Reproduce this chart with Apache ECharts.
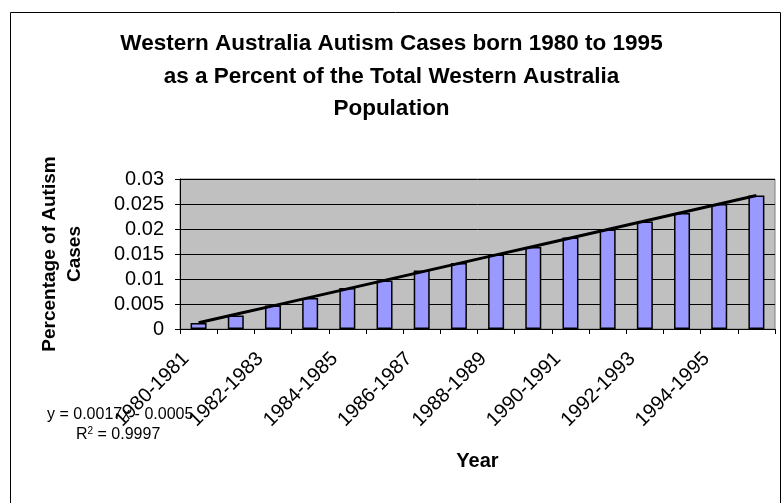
<!DOCTYPE html>
<html>
<head>
<meta charset="utf-8">
<script src="https://cdn.jsdelivr.net/npm/echarts@6/dist/echarts.min.js"></script>
<style>html,body{margin:0;padding:0;background:#fff;}#c{width:783px;height:503px;}</style>
</head>
<body>
<div id="c"></div>
<script>
var categories = ["1980-1981","1981-1982","1982-1983","1983-1984","1984-1985","1985-1986","1986-1987","1987-1988","1988-1989","1989-1990","1990-1991","1991-1992","1992-1993","1993-1994","1994-1995","1995-1996"];
var percentValues = [0.0012,0.0027,0.0047,0.0062,0.0082,0.0097,0.0117,0.0132,0.0149,0.0164,0.0183,0.0199,0.0215,0.0232,0.0250,0.0267];
var yTicks = [0, 0.005, 0.01, 0.015, 0.02, 0.025, 0.03];

// linear trendline (least squares) derived from the bar data
var n = percentValues.length, sx = 0, sy = 0, sxy = 0, sxx = 0;
for (var i = 0; i < n; i++) { var x = i + 1; sx += x; sy += percentValues[i]; sxy += x * percentValues[i]; sxx += x * x; }
var slope = (n * sxy - sx * sy) / (n * sxx - sx * sx);
var intercept = (sy - slope * sx) / n;
var trend = percentValues.map(function (v, i) { return slope * (i + 1) + intercept; });

var chart = echarts.init(document.getElementById('c'));
var FONT = '"Liberation Sans", Arial, sans-serif';
chart.setOption({
  backgroundColor: '#fff',
  animation: false,
  title: {
    text: 'Western Australia Autism Cases born 1980 to 1995\nas a Percent of the Total Western Australia\nPopulation',
    left: 'center', top: 23,
    textStyle: { fontFamily: FONT, fontSize: 22.5, fontWeight: 'bold', color: '#000', lineHeight: 32.5 }
  },
  grid: { left: 180, right: 8, top: 179, bottom: 174, show: true, backgroundColor: '#C0C0C0', borderColor: '#808080', borderWidth: 1 },
  xAxis: {
    type: 'category', data: categories, boundaryGap: true,
    name: 'Year', nameLocation: 'middle', nameGap: 122,
    nameTextStyle: { fontFamily: FONT, fontSize: 20, fontWeight: 'bold', color: '#000' },
    axisLine: { lineStyle: { color: '#000', width: 1 } },
    axisTick: { show: true, alignWithLabel: false, interval: 0, length: 5, lineStyle: { color: '#000' } },
    axisLabel: { interval: 1, rotate: 45, fontFamily: FONT, fontSize: 20, color: '#000', margin: 14, padding: [0, 18, 0, 0] }
  },
  yAxis: {
    type: 'value', min: 0, max: 0.03, interval: 0.005,
    name: 'Percentage of Autism\nCases', nameLocation: 'middle', nameGap: 93, nameRotate: 90,
    nameTextStyle: { fontFamily: FONT, fontSize: 19, fontWeight: 'bold', color: '#000', lineHeight: 25 },
    axisLine: { show: true, lineStyle: { color: '#000', width: 1 } },
    axisTick: { show: true, length: 5, lineStyle: { color: '#000' } },
    splitLine: { show: true, lineStyle: { color: '#000', width: 1 } },
    axisLabel: { fontFamily: FONT, fontSize: 20, color: '#000', margin: 16,
      formatter: function (v) { return String(parseFloat(v.toFixed(4))); } }
  },
  series: [
    { type: 'bar', data: percentValues, barWidth: 16,
      itemStyle: { color: '#9999FF', borderColor: '#000', borderWidth: 1.5 } },
    { type: 'line', data: trend, symbol: 'none', z: 5,
      lineStyle: { color: '#000', width: 3 } }
  ],
  graphic: [
    { type: 'rect', left: 8, top: 10, shape: { width: 770, height: 520 }, style: { fill: 'none', stroke: '#000', lineWidth: 1 }, silent: true },
    { type: 'text', left: 47, top: 407, style: { text: 'y = 0.0017x - 0.0005', font: '16px "Liberation Sans", Arial', fill: '#000' }, z: 10 },
    { type: 'text', left: 76, top: 426, style: { rich: { a: { font: '16px "Liberation Sans", Arial', fill: '#000' }, s: { font: '10px "Liberation Sans", Arial', fill: '#000', verticalAlign: 'top', padding: [0,0,7,0] } }, text: '{a|R}{s|2}{a| = 0.9997}' }, z: 10 }
  ]
});
</script>
</body>
</html>
